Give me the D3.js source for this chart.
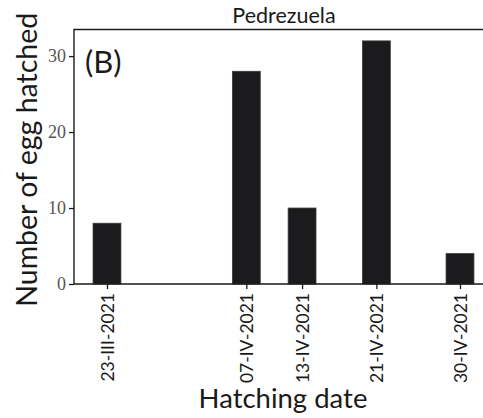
<!DOCTYPE html>
<html>
<head>
<meta charset="utf-8">
<script src="https://cdn.jsdelivr.net/npm/d3@7"></script>
<style>
  html, body { margin: 0; padding: 0; background: #fff; }
  svg { display: block; }
</style>
</head>
<body>
<svg id="chart" width="483" height="418"></svg>
<script>
// Eggs hatched per date at Pedrezuela
const dates = ["2021-03-23", "2021-04-07", "2021-04-13", "2021-04-21", "2021-04-30"];
const dateLabels = ["23-III-2021", "07-IV-2021", "13-IV-2021", "21-IV-2021", "30-IV-2021"];
const eggsHatched = [8, 28, 10, 32, 4];
const yTicks = [0, 10, 20, 30];

const svg = d3.select("#chart");
const parse = d3.utcParse("%Y-%m-%d");
const DAY = 864e5;

const plotLeft = 74, plotTop = 29.5, plotBottom = 284;
const pxPerDay = 9.29, padDays = 3.55;

const t0 = parse(dates[0]), t1 = parse(dates[dates.length - 1]);
const x = d3.scaleUtc()
  .domain([new Date(+t0 - padDays * DAY), new Date(+t1 + padDays * DAY)])
  .range([plotLeft, plotLeft + ((t1 - t0) / DAY + 2 * padDays) * pxPerDay]);
const plotRight = x.range()[1];

const y = d3.scaleLinear().domain([0, 33.5]).range([plotBottom, plotTop]);

const data = dates.map((d, i) => ({ t: parse(d), v: eggsHatched[i], label: dateLabels[i] }));
const halfBar = 1.5 * DAY;

// bars
svg.append("g").selectAll("rect").data(data).join("rect")
  .attr("x", d => x(new Date(+d.t - halfBar)))
  .attr("width", d => x(new Date(+d.t + halfBar)) - x(new Date(+d.t - halfBar)))
  .attr("y", d => y(d.v))
  .attr("height", d => y(0) - y(d.v))
  .attr("fill", "#1b1a1c")
  .attr("stroke", "#3a3a3a")
  .attr("stroke-width", 0.8);

// frame (top, left, bottom)
svg.append("path")
  .attr("d", `M${plotRight},${plotTop}H${plotLeft}V${plotBottom}H${plotRight}`)
  .attr("fill", "none")
  .attr("stroke", "#1a1a1a")
  .attr("stroke-width", 1.4);

// y axis
const yAxis = svg.append("g")
  .attr("transform", `translate(${plotLeft},0)`)
  .call(d3.axisLeft(y).tickValues(yTicks).tickSize(5).tickSizeOuter(0).tickPadding(3));
yAxis.select(".domain").remove();
yAxis.selectAll(".tick line").attr("stroke", "#1a1a1a").attr("stroke-width", 1.3);
yAxis.selectAll(".tick text")
  .attr("font-family", "'Liberation Serif', 'DejaVu Serif', serif")
  .attr("font-size", 18)
  .attr("fill", "#555");

// x axis
const xAxis = svg.append("g")
  .attr("transform", `translate(0,${plotBottom})`)
  .call(d3.axisBottom(x).tickValues(data.map(d => d.t))
    .tickFormat((d, i) => dateLabels[i]).tickSize(5).tickSizeOuter(0));
xAxis.select(".domain").remove();
xAxis.selectAll(".tick line").attr("stroke", "#1a1a1a").attr("stroke-width", 1.3);
xAxis.selectAll(".tick text")
  .attr("font-family", "Lato, 'DejaVu Sans', sans-serif")
  .attr("font-size", 17.5)
  .attr("fill", "#1a1a1a")
  .attr("transform", "rotate(-90)")
  .attr("text-anchor", "end")
  .attr("x", -9)
  .attr("y", 0)
  .attr("dy", "0.35em");

// panel title
svg.append("text")
  .attr("x", 284).attr("y", 23)
  .attr("text-anchor", "middle")
  .attr("font-family", "Lato, 'DejaVu Sans', sans-serif")
  .attr("font-size", 21.5)
  .attr("fill", "#1a1a1a")
  .text("Pedrezuela");

// panel tag
svg.append("text")
  .attr("x", 85).attr("y", 73)
  .attr("font-family", "Lato, 'DejaVu Sans', sans-serif")
  .attr("font-size", 31)
  .attr("fill", "#1a1a1a")
  .text("(B)");

// axis titles
svg.append("text")
  .attr("x", 283).attr("y", 408)
  .attr("text-anchor", "middle")
  .attr("font-family", "Lato, 'DejaVu Sans', sans-serif")
  .attr("font-size", 27.5)
  .attr("fill", "#1a1a1a")
  .text("Hatching date");

svg.append("text")
  .attr("transform", `translate(37,${(plotTop + plotBottom) / 2 + 3}) rotate(-90)`)
  .attr("text-anchor", "middle")
  .attr("font-family", "Lato, 'DejaVu Sans', sans-serif")
  .attr("font-size", 28.5)
  .attr("fill", "#1a1a1a")
  .text("Number of egg hatched");
</script>
</body>
</html>
